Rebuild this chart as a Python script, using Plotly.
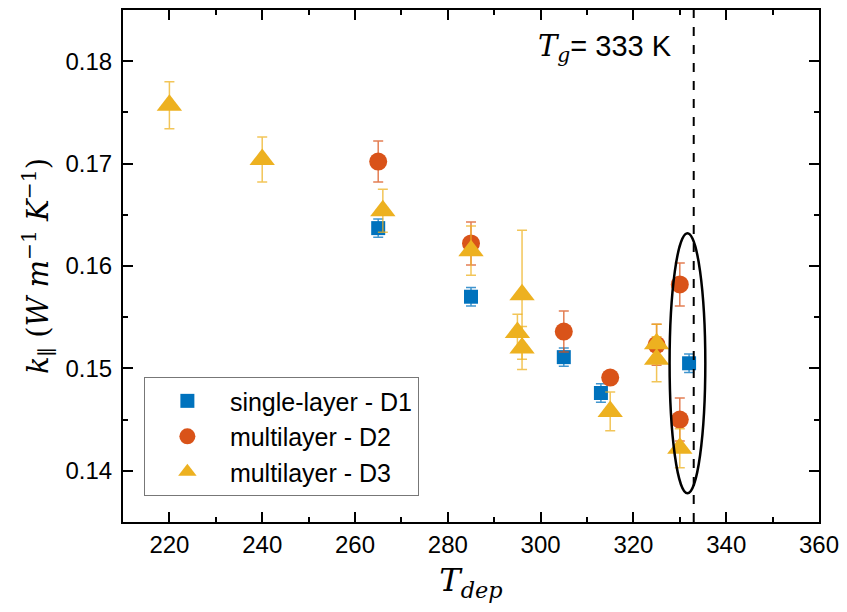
import plotly.graph_objects as go

# ---- data ----
d1_x = [265, 285, 305, 313, 332]
d1_y = [0.1637, 0.1570, 0.1511, 0.1476, 0.1505]
d1_err = [0.0009, 0.0009, 0.0009, 0.0009, 0.0009]

d2_x = [265, 285, 305, 315, 325, 330, 330]
d2_y = [0.1702, 0.1622, 0.1536, 0.1491, 0.1523, 0.1582, 0.1450]
d2_err = [0.0020, 0.0021, 0.0020, 0.0004, 0.0020, 0.0021, 0.0021]

d3_x = [220, 240, 266, 285, 296, 295, 296, 315, 325, 325, 330]
d3_y = [0.1757, 0.1704, 0.1654, 0.1615, 0.1572, 0.1535, 0.1520, 0.1458, 0.1524, 0.1509, 0.1422]
d3_err = [0.0023, 0.0022, 0.0021, 0.0024, 0.0063, 0.0018, 0.0021, 0.0019, 0.0019, 0.0022, 0.0019]

names = ["single-layer - D1", "multilayer - D2", "multilayer - D3"]
colors = ["#0072BD", "#D95319", "#EDB120"]
err_colors = ["rgba(0,114,189,0.75)", "rgba(217,83,25,0.75)", "rgba(237,177,32,0.75)"]

Tg = 333
ellipse_x = [327.8, 335.5]
ellipse_y = [0.1378, 0.1632]

x_range = [210, 360]
y_range = [0.135, 0.185]
x_ticks = [220, 240, 260, 280, 300, 320, 340, 360]
y_ticks = [0.14, 0.15, 0.16, 0.17, 0.18]

fig = go.Figure()
series = [(d1_x, d1_y, d1_err, "square", 14),
          (d2_x, d2_y, d2_err, "circle", 18),
          (d3_x, d3_y, d3_err, "triangle-up", 22)]
for i, (xs, ys, es, sym, sz) in enumerate(series):
    fig.add_trace(go.Scatter(
        x=xs, y=ys, mode="markers", name=names[i],
        marker=dict(symbol=sym, size=sz, color=colors[i], line=dict(width=0)),
        error_y=dict(type="data", array=es, visible=True, color=err_colors[i],
                     thickness=1.5, width=5),
    ))

fig.add_shape(type="line", x0=Tg, x1=Tg, xref="x", y0=0, y1=1, yref="paper",
              line=dict(color="black", width=2, dash="dash"))
fig.add_shape(type="circle", xref="x", yref="y",
              x0=ellipse_x[0], x1=ellipse_x[1], y0=ellipse_y[0], y1=ellipse_y[1],
              line=dict(color="black", width=2.5))

fig.add_annotation(x=Tg, xref="x", xanchor="right", xshift=-20,
                   y=0.1813, yref="y", yanchor="middle", showarrow=False,
                   text="<span style='font-family:DejaVu Serif'><i>T</i><sub><i>g</i></sub></span>= 333 K",
                   font=dict(family="Liberation Sans", size=29, color="black"))

axis_common = dict(
    showgrid=False, zeroline=False, showline=True, linecolor="black", linewidth=2,
    mirror="allticks", ticks="inside", ticklen=10, tickwidth=2, tickcolor="black",
    tickfont=dict(family="Liberation Sans", size=24, color="black"),
    minor=dict(ticks="inside", ticklen=5, tickwidth=2, tickcolor="black", showgrid=False),
)

fig.update_xaxes(range=x_range, tickvals=x_ticks, **axis_common)
fig.update_xaxes(minor_dtick=10, minor_tick0=210,
                 title=dict(text="<i>T</i><sub><i>dep</i></sub>",
                            font=dict(family="DejaVu Serif", size=32, color="black"),
                            standoff=12))
fig.update_yaxes(range=y_range, tickvals=y_ticks, tickformat=".2f", ticklabelstandoff=4, **axis_common)
fig.update_yaxes(minor_dtick=0.005, minor_tick0=0.135,
                 title=dict(text="<i>k</i><sub>∥</sub> (<i>W m</i><sup>−1</sup> <i>K</i><sup>−1</sup>)",
                            font=dict(family="DejaVu Serif", size=29, color="black"),
                            standoff=8))

fig.update_layout(
    width=847, height=612,
    margin=dict(l=123, r=25, t=8, b=90),
    plot_bgcolor="white", paper_bgcolor="white",
    showlegend=True,
    legend=dict(x=0.03, y=0.283, xanchor="left", yanchor="top",
                bgcolor="white", bordercolor="#777777", borderwidth=1,
                font=dict(family="Liberation Sans", size=25, color="black"),
                tracegroupgap=0, itemsizing="trace", itemwidth=75),
)

fig.write_html("out.html")
